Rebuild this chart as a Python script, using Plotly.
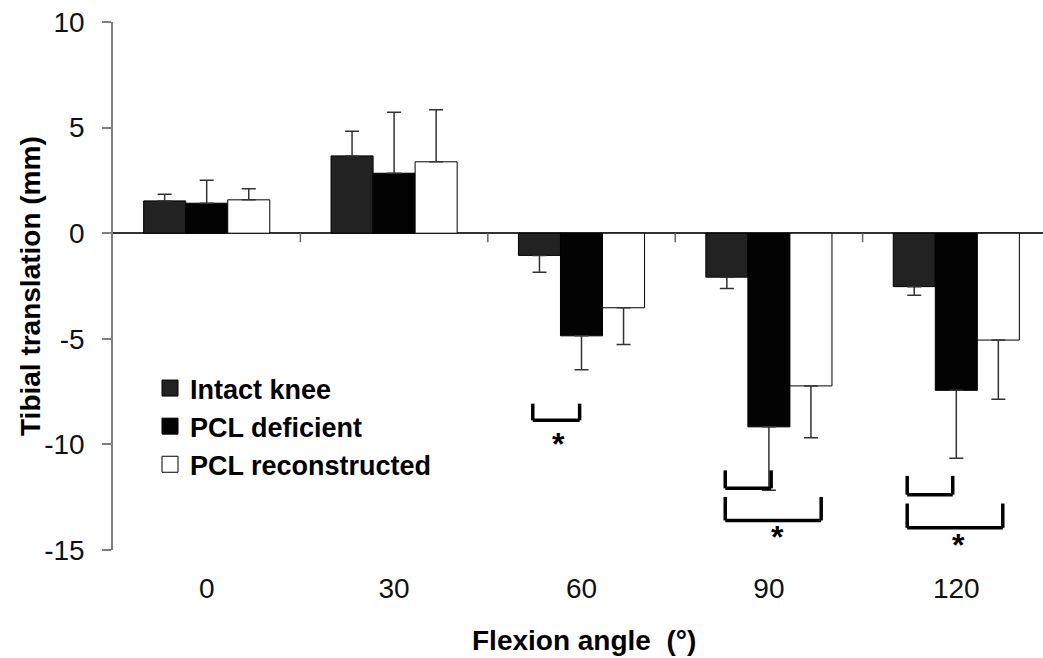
import plotly.graph_objects as go

# Flexion angles (degrees) used as categories
angles = ["0", "30", "60", "90", "120"]

# Mean tibial translation (mm) and standard deviations per condition
intact = [1.53, 3.66, -1.05, -2.08, -2.53]
intact_sd = [0.32, 1.17, 0.80, 0.54, 0.41]

deficient = [1.42, 2.84, -4.86, -9.17, -7.44]
deficient_sd = [1.09, 2.89, 1.60, 3.00, 3.22]

reconstructed = [1.58, 3.38, -3.53, -7.23, -5.06]
reconstructed_sd = [0.52, 2.46, 1.74, 2.45, 2.80]

series_names = ["Intact knee", "PCL deficient", "PCL reconstructed"]

# y-axis tick values and their printed labels (plain hyphen minus)
y_ticks = [-15, -10, -5, 0, 5, 10]
y_tick_labels = ["-15", "-10", "-5", "0", "5", "10"]

FONT = "Liberation Sans, Arial, Helvetica, sans-serif"
W, H = 1043, 658
M_L, M_R, M_T, M_B = 113, 0, 22, 108
PLOT_W = W - M_L - M_R
PLOT_H = H - M_T - M_B
CAT_PX = 187.4  # pixel width of one category slot

fills = ["#222222", "#030303", "#ffffff"]


def one_sided(values, sds):
    """Error bars point away from zero only."""
    up = [s if v >= 0 else 0 for v, s in zip(values, sds)]
    down = [s if v < 0 else 0 for v, s in zip(values, sds)]
    return up, down


fig = go.Figure()
for name, vals, sds, col in zip(series_names,
                                 [intact, deficient, reconstructed],
                                 [intact_sd, deficient_sd, reconstructed_sd],
                                 fills):
    up, down = one_sided(vals, sds)
    fig.add_trace(go.Bar(
        name=name, x=angles, y=vals, showlegend=False,
        marker=dict(color=col, line=dict(color="#000000", width=1)),
        error_y=dict(type="data", symmetric=False, array=up, arrayminus=down,
                     color="#333333", thickness=1.5, width=7),
    ))
    # legend swatch
    fig.add_trace(go.Scatter(
        name=name, x=[None], y=[None], mode="markers",
        marker=dict(symbol="square", size=16, color=col,
                    line=dict(color="#000000", width=1)),
    ))

shapes = []
# category boundary ticks hanging from the zero line
for i in range(len(angles) - 1):
    shapes.append(dict(type="line", xref="x", yref="y", x0=i + 0.5, x1=i + 0.5,
                       ysizemode="pixel", yanchor=0, y0=0, y1=-9,
                       line=dict(color="#666666", width=1.5)))

# significance brackets: (category index, left, right, top, bottom)
brackets = [
    (2, -0.26, -0.01, -8.07, -8.86),
    (3, -0.233, 0.012, -11.23, -12.08),
    (3, -0.233, 0.279, -12.49, -13.60),
    (4, -0.262, -0.019, -11.49, -12.38),
    (4, -0.262, 0.248, -12.80, -13.95),
]
bl = dict(color="#000000", width=3.5)
for idx, xl, xr, yt, yb in brackets:
    x0, x1 = idx + xl, idx + xr
    shapes.append(dict(type="line", xref="x", yref="y", x0=x0, x1=x0, y0=yt, y1=yb, line=bl))
    shapes.append(dict(type="line", xref="x", yref="y", x0=x1, x1=x1, y0=yt, y1=yb, line=bl))
    shapes.append(dict(type="line", xref="x", yref="y", x0=x0, x1=x1, y0=yb, y1=yb, line=bl))

annotations = []
# asterisks under the brackets
for idx, dx, y in [(2, -0.123, -9.97), (3, 0.044, -14.38), (4, 0.012, -14.74)]:
    annotations.append(dict(x=idx + dx, y=y, xref="x", yref="y", text="*",
                            showarrow=False, yshift=0,
                            font=dict(family=FONT, size=32, color="#000000", weight="bold")))

# axis titles
annotations.append(dict(x=(30 - M_L) / PLOT_W, y=0.5,
                        xref="paper", yref="paper", text="Tibial translation (mm)",
                        textangle=-90, showarrow=False, xanchor="center", yanchor="middle",
                        font=dict(family=FONT, size=28, color="#000000", weight="bold")))
annotations.append(dict(x=(583.5 - M_L) / PLOT_W, y=(M_T + PLOT_H - 640) / PLOT_H,
                        xref="paper", yref="paper", text="Flexion angle  (°)",
                        showarrow=False, xanchor="center", yanchor="middle",
                        font=dict(family=FONT, size=28, color="#000000", weight="bold")))

fig.update_layout(
    width=W, height=H,
    margin=dict(l=M_L, r=M_R, t=M_T, b=M_B),
    paper_bgcolor="#ffffff", plot_bgcolor="#ffffff",
    barmode="group", bargap=0.327, bargroupgap=0,
    shapes=shapes, annotations=annotations,
    showlegend=True,
    legend=dict(x=(150 - M_L) / PLOT_W, y=(M_T + PLOT_H - 364) / PLOT_H,
                xanchor="left", yanchor="top", bgcolor="rgba(0,0,0,0)",
                font=dict(family=FONT, size=27, color="#000000", weight="bold"),
                tracegroupgap=0),
)

fig.update_xaxes(
    type="category", categoryorder="array", categoryarray=angles,
    range=[-0.5, -0.5 + PLOT_W / CAT_PX],
    showline=False, showgrid=False, zeroline=False, ticks="",
    ticklabelstandoff=19,
    tickfont=dict(family=FONT, size=28, color="#111111"),
)
fig.update_yaxes(
    range=[-15, 10], tickvals=y_ticks, ticktext=y_tick_labels,
    showline=True, linecolor="#808080", linewidth=1.5,
    ticks="outside", ticklen=9, tickcolor="#808080", tickwidth=1.5,
    ticklabelstandoff=12,
    showgrid=False, zeroline=True, zerolinecolor="#333333", zerolinewidth=1.5,
    tickfont=dict(family=FONT, size=28, color="#111111"),
)

fig.write_html("out.html")
